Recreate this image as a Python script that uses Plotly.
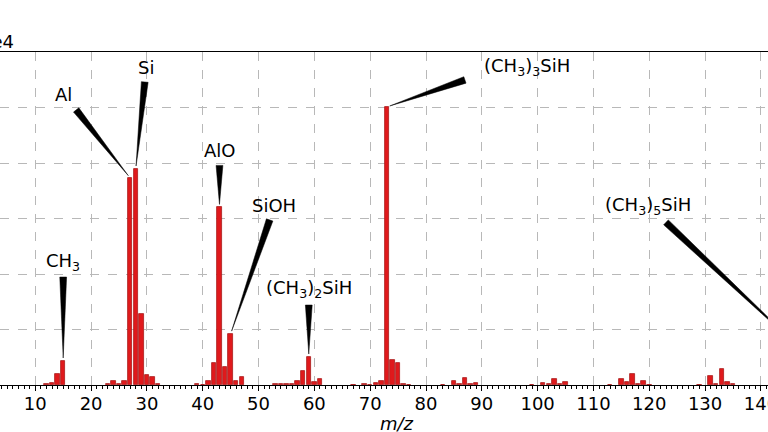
import math
import plotly.graph_objects as go

# ---- data (m/z, intensity) ----
mz = [12, 13, 14, 15,
      23, 24, 25, 26, 27, 28, 29, 30, 31, 32,
      39, 40, 41, 42, 43, 44, 45, 46, 47,
      53, 54, 55, 56, 57, 58, 59, 60, 61,
      67, 69, 70, 71, 72, 73, 74, 75, 76, 77,
      83, 85, 86, 87, 88, 89,
      99, 101, 102, 103, 104, 105,
      113, 115, 116, 117, 118, 119, 120,
      129, 131, 132, 133, 134, 135,
      147]
intensity = [90, 180, 990, 2160,
             90, 360, 90, 330, 18650, 19460, 6400, 900, 690, 90,
             90, 45, 360, 1980, 16000, 1600, 4600, 360, 690,
             90, 60, 90, 60, 360, 1260, 2520, 240, 540,
             45, 90, 45, 180, 360, 25050, 2250, 1980, 90, 45,
             45, 360, 90, 630, 90, 225,
             45, 225, 135, 510, 90, 270,
             45, 510, 270, 960, 135, 360, 45,
             45, 810, 135, 1470, 240, 135,
             3300]

# labels: (text, m/z of peak)
labels = ["CH<sub>3</sub>", "Al", "Si", "AlO", "SiOH",
          "(CH<sub>3</sub>)<sub>2</sub>SiH", "(CH<sub>3</sub>)<sub>3</sub>SiH",
          "(CH<sub>3</sub>)<sub>5</sub>SiH"]
label_mz = [15, 27, 28, 43, 45, 59, 73, 147]
# text offset and wedge tail offset in pixels from the peak top (x right, y up)
text_off = [(0, 99), (-67, 83), (10, 101), (0, 57), (43, 128), (0, 68), (140, 40), (-152, 142)]
tail_off = [(0, 84), (-54, 68), (9, 87), (0, 42), (39, 114), (0, 52), (78, 27), (-134, 126)]

# ---- layout constants ----
W, H = 768, 432
T, B = 52, 47
XMIN, XMAX = 3.68, 141.27
YMAX = 30000
px_x = W / (XMAX - XMIN)
px_y = (H - T - B) / YMAX
FONT = "DejaVu Sans"

fig = go.Figure()
fig.add_trace(go.Bar(
    x=mz, y=intensity, width=0.8,
    marker=dict(color="#e0191c", line=dict(color="#a81c1c", width=0.8)),
    showlegend=False,
))

val = dict(zip(mz, intensity))
shapes = []
annotations = []
for txt, m, to, tl in zip(labels, label_mz, text_off, tail_off):
    v = val[m]
    dx, dy = tl
    L = math.hypot(dx, dy)
    ux, uy = dx / L, dy / L
    shrink = 3
    tipx, tipy = ux * shrink, uy * shrink
    hw = 3.4
    px_, py_ = -uy * hw, ux * hw
    path = (f"M{tipx:.2f},{tipy:.2f} L{dx + px_:.2f},{dy + py_:.2f} "
            f"L{dx - px_:.2f},{dy - py_:.2f} Z")
    shapes.append(dict(type="path", xref="x", yref="y",
                       xsizemode="pixel", ysizemode="pixel",
                       xanchor=m, yanchor=v, path=path,
                       fillcolor="black", line=dict(color="black", width=0.5),
                       layer="above"))
    annotations.append(dict(x=m + to[0] / px_x, y=v + to[1] / px_y,
                            xref="x", yref="y", text=txt, showarrow=False,
                            xanchor="center", yanchor="middle",
                            font=dict(family=FONT, size=18, color="black")))

annotations.append(dict(x=16 / W, y=1, xref="paper", yref="paper", text="1e4",
                        showarrow=False, xanchor="right", yanchor="bottom",
                        yshift=-2,
                        font=dict(family=FONT, size=18, color="black")))
annotations.append(dict(x=397 / W, y=-(423 - (H - B)) / (H - T - B), xref="paper",
                        yref="paper", text="<i>m/z</i>", showarrow=False,
                        xanchor="center", yanchor="middle",
                        font=dict(family=FONT, size=18, color="black")))

fig.update_layout(
    width=W, height=H,
    margin=dict(l=0, r=0, t=T, b=B, pad=0, autoexpand=False),
    paper_bgcolor="white", plot_bgcolor="white",
    bargap=0,
    shapes=shapes, annotations=annotations,
    font=dict(family=FONT, size=18, color="black"),
    xaxis=dict(range=[XMIN, XMAX], tick0=0, dtick=10, automargin=False,
               showgrid=True, gridcolor="#b8b8b8", griddash="dash", gridwidth=1,
               showline=True, linecolor="black", linewidth=1, mirror=True,
               ticks="outside", ticklen=5, tickwidth=1, tickcolor="black",
               ticklabeloverflow="allow", ticklabelstandoff=-3,
               minor=dict(dtick=1, ticks="outside", ticklen=3, tickwidth=1,
                          tickcolor="black", showgrid=False),
               tickfont=dict(family=FONT, size=18, color="black"),
               zeroline=False),
    yaxis=dict(range=[0, YMAX], dtick=5000, showticklabels=False,
               automargin=False,
               showgrid=True, gridcolor="#b8b8b8", griddash="dash", gridwidth=1,
               showline=False, zeroline=False, ticks=""),
)

fig.write_html("out.html")
